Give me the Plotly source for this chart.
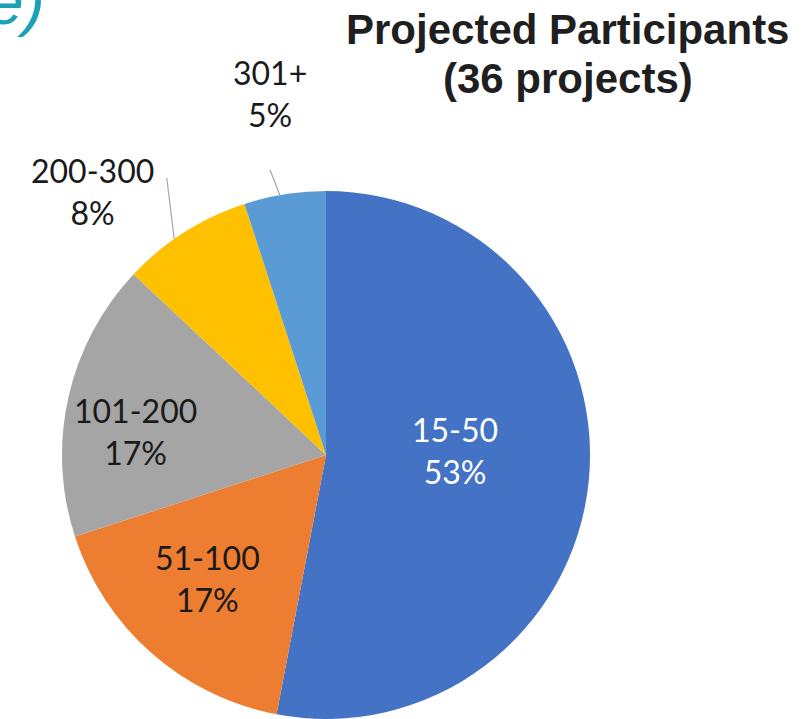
import math
import plotly.graph_objects as go

# ---- data ----
labels = ["15-50", "51-100", "101-200", "200-300", "301+"]
values = [53, 17, 17, 8, 5]
colors = ["#4472C4", "#ED7D31", "#A5A5A5", "#FFC000", "#5B9BD5"]
title_lines = ["Projected Participants", "(36 projects)"]

W, H = 805, 719
dom_x = [0.077, 0.733]
dom_y = [0.0, 0.7344]

# label styles: (angle offset from slice mid, radius factor, font colour)
label_style = {
    "15-50": (-7.2, 0.49, "white"),
    "51-100": (2.5, 0.647, "#1a1a1a"),
    "101-200": (-5.7, 0.725, "#1a1a1a"),
    "200-300": (-9.2, 1.335, "#1a1a1a"),
    "301+": (0.2, 1.387, "#1a1a1a"),
}
# leader lines: (start angle offset, start radius, end angle offset, end radius)
leader_style = {
    "200-300": (-2.7, 1.0, 2.5, 1.21),
    "301+": (-1.1, 1.0, -2.1, 1.10),
}

fig = go.Figure()
fig.add_trace(go.Pie(
    labels=labels, values=values, sort=False, direction="clockwise", rotation=0,
    marker=dict(colors=colors, line=dict(width=0)),
    textinfo="none",
    domain=dict(x=dom_x, y=dom_y), showlegend=False, hoverinfo="label+percent",
))

# geometry derived from the pie domain
cx = (dom_x[0] + dom_x[1]) / 2
cy = (dom_y[0] + dom_y[1]) / 2
r_px = min(W * (dom_x[1] - dom_x[0]), H * (dom_y[1] - dom_y[0])) / 2
total = sum(values)

def polar(deg, k):
    a = math.radians(deg)
    return cx + k * r_px * math.sin(a) / W, cy + k * r_px * math.cos(a) / H

cum = 0
for lab, v in zip(labels, values):
    mid = (cum + v / 2) / total * 360
    cum += v
    da, kr, col = label_style[lab]
    tx, ty = polar(mid + da, kr)
    fig.add_annotation(x=tx, y=ty, xref="paper", yref="paper", showarrow=False,
                       text=f"{lab}<br>{v}%", xanchor="center", yanchor="middle",
                       font=dict(family="Lato", size=32, color=col))
    if lab in leader_style:
        sa, sk, ea, ek = leader_style[lab]
        x0, y0 = polar(mid + sa, sk)
        x1, y1 = polar(mid + ea, ek)
        fig.add_shape(type="line", xref="paper", yref="paper", x0=x0, y0=y0, x1=x1, y1=y1,
                      line=dict(color="#A6A6A6", width=1.2))

# title (two lines)
fig.add_annotation(x=0.705, y=1 - 30 / H, xref="paper", yref="paper", yanchor="middle", xanchor="center",
                   showarrow=False, text=f"<b>{title_lines[0]}</b>",
                   font=dict(family="Liberation Sans", size=42, color="#1f1f1f"))
fig.add_annotation(x=0.705, y=1 - 79 / H, xref="paper", yref="paper", yanchor="middle", xanchor="center",
                   showarrow=False, text=f"<b>{title_lines[1]}</b>",
                   font=dict(family="Liberation Sans", size=42, color="#1f1f1f"))

# fragment of slide title at top-left
fig.add_annotation(x=0.058, y=1.05, xref="paper", yref="paper", xanchor="right", yanchor="top",
                   showarrow=False, text="<i>e)</i>",
                   font=dict(family="Liberation Sans", size=64, color="#1BA1B5"))

fig.update_layout(width=W, height=H, margin=dict(l=0, r=0, t=0, b=0),
                  paper_bgcolor="white", plot_bgcolor="white")
fig.write_html("out.html", config={"displayModeBar": False},
               post_script="document.body.style.margin='0';")
